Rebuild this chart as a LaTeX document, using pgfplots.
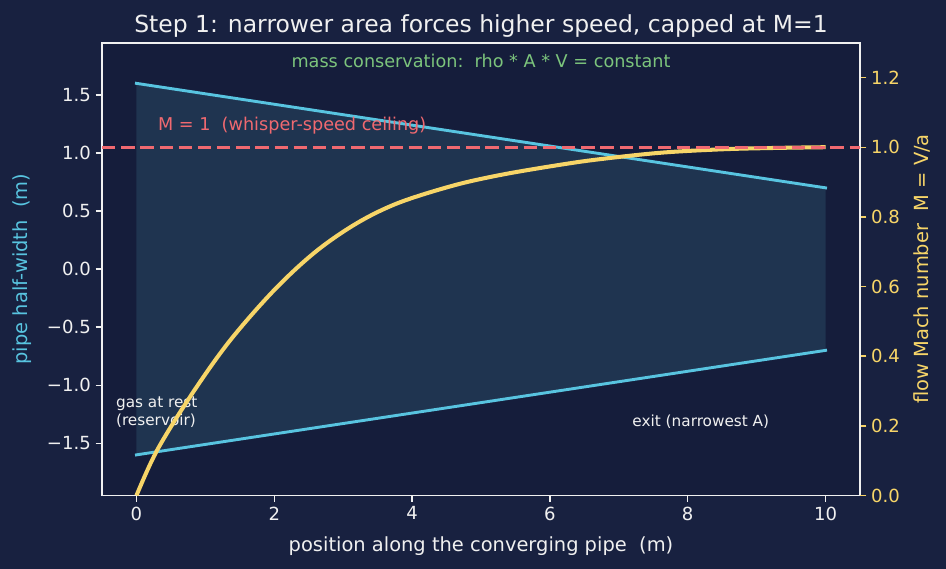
\documentclass[border=0pt]{standalone}
\usepackage{pgfplots}
\pgfplotsset{compat=1.18}
\usepackage{fontspec}
\setmainfont{DejaVu Sans}

\definecolor{figbg}{RGB}{24,33,64}
\definecolor{axbg}{RGB}{21,29,59}
\definecolor{pipefill}{RGB}{31,52,80}
\definecolor{wall}{RGB}{88,196,224}
\definecolor{mach}{RGB}{247,213,104}
\definecolor{sonic}{RGB}{240,105,112}
\definecolor{note}{RGB}{124,196,124}
\definecolor{ink}{RGB}{240,240,240}

\newcommand{\fs}[2]{\fontsize{#1}{#2}\selectfont}

% Mach number along the pipe (x in m, M)
\pgfplotstableread{
x     M
0.00  0.000
0.30  0.130
0.80  0.290
1.35  0.443
2.00  0.590
2.60  0.700
3.20  0.782
3.80  0.840
4.60  0.890
5.30  0.921
6.10  0.948
6.70  0.965
7.60  0.984
8.50  0.994
9.30  0.998
10.00 1.000
}\machdata

\pgfplotsset{
  pipeaxis/.style={
    scale only axis, width=545.76bp, height=326.0bp,
    at={(73.44bp,52.92bp)}, anchor=south west,
    xmin=-0.5, xmax=10.5,
    tick align=outside, major tick length=4.55bp,
    /pgf/number format/assume math mode=true,
    tick label style={font=\fs{13bp}{15.6bp}},
    axis line style={ink, line width=1.3bp},
  }
}

\begin{document}
\begin{tikzpicture}
\fill[figbg] (0,0) rectangle (681.12bp,409.68bp);
\useasboundingbox (0,0) rectangle (681.12bp,409.68bp);

% pipe geometry (left axis)
\begin{axis}[pipeaxis,
  axis background/.style={fill=axbg},
  ymin=-1.95, ymax=1.95,
  xtick={0,2,4,6,8,10}, xticklabels={0,2,4,6,8,10},
  ytick={-1.5,-1,-0.5,0,0.5,1,1.5},
  yticklabels={−1.5,−1.0,−0.5,0.0,0.5,1.0,1.5},
  xtick pos=bottom, ytick pos=left,
  every tick/.style={ink, line width=1bp},
  tick label style={text=ink},
]
\addplot[fill=pipefill, draw=none] coordinates {(0,1.6) (10,0.7) (10,-0.7) (0,-1.6)} -- cycle;
\addplot[wall, line width=2.1bp, line cap=rect] coordinates {(0,1.6) (10,0.7)};
\addplot[wall, line width=2.1bp, line cap=rect] coordinates {(0,-1.6) (10,-0.7)};
\node[note, font=\fs{12.7bp}{15.2bp}] at (rel axis cs:0.5,0.9596) {mass conservation:\ \ rho * A * V = constant};
\node[ink, font=\fs{11bp}{13bp}, align=left, anchor=west, inner sep=0pt] at (axis cs:-0.3,-1.236) {gas at rest\\(reservoir)};
\node[ink, font=\fs{11bp}{13bp}, inner sep=0pt] at (axis cs:8.19,-1.311) {exit (narrowest A)};
\end{axis}

% Mach number (right axis)
\begin{axis}[pipeaxis,
  ymin=0, ymax=1.3,
  axis x line=none, axis y line*=right,
  ytick={0,0.2,0.4,0.6,0.8,1.0,1.2},
  yticklabels={0.0,0.2,0.4,0.6,0.8,1.0,1.2},
  every tick/.style={mach, line width=1bp},
  tick label style={text=mach},
]
\addplot[mach, line width=2.9bp, smooth, tension=0.55] table[x=x, y=M] {\machdata};
\addplot[sonic, line width=2.2bp, dash pattern=on 9.6bp off 4.2bp] coordinates {(-0.5,1) (10.5,1)};
\node[sonic, font=\fs{12.7bp}{15.2bp}, anchor=west, inner sep=0pt] at (axis cs:0.31,1.063) {M = 1\ \ (whisper-speed ceiling)};
\end{axis}

% titles and axis labels
\node[ink, font=\fs{16.9bp}{20bp}, anchor=base] at (346.3bp,386.6bp) {Step 1: narrower area forces higher speed, capped at M=1};
\node[ink, font=\fs{14bp}{17bp}, anchor=base] at (346.3bp,12.5bp) {position along the converging pipe\ \ (m)};
\node[wall, font=\fs{14bp}{17bp}, rotate=90] at (15.6bp,216bp) {pipe half-width\ \ (m)};
\node[mach, font=\fs{14bp}{17bp}, rotate=90] at (663.6bp,216bp) {flow Mach number\ \ M = V/a};
\end{tikzpicture}
\end{document}
